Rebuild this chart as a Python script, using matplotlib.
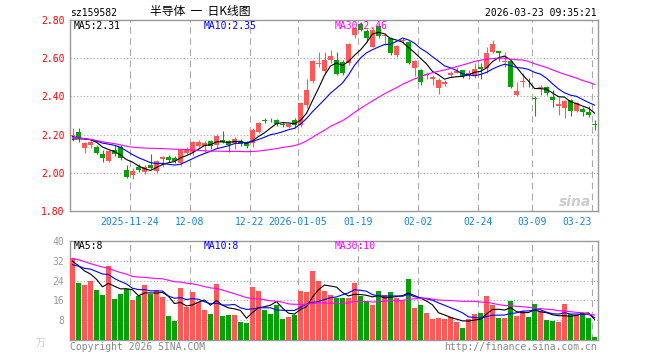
import numpy as np
import pandas as pd
import matplotlib
matplotlib.use("Agg")
import matplotlib.pyplot as plt

plt.rcParams['font.family'] = ['DejaVu Sans Mono', 'Noto Sans CJK SC']

# daily candles, 2025-11-10 .. 2026-03-23 (88 sessions)
opens = [2.195, 2.215, 2.13, 2.145, 2.135, 2.10, 2.06, 2.12, 2.135, 2.015,
         1.99, 2.03, 2.005, 2.04, 2.01, 2.07, 2.085, 2.075, 2.05, 2.105,
         2.11, 2.14, 2.14, 2.165, 2.145, 2.17, 2.165, 2.155, 2.165, 2.16,
         2.155, 2.215, 2.275, 2.277, 2.275, 2.255, 2.24, 2.275, 2.25, 2.355,
         2.48, 2.57, 2.535, 2.59, 2.59, 2.58, 2.573, 2.72, 2.78, 2.74,
         2.66, 2.77, 2.715, 2.705, 2.615, 2.69, 2.687, 2.548, 2.538, 2.51,
         2.49, 2.445, 2.465, 2.51, 2.525, 2.538, 2.512, 2.512, 2.556, 2.548,
         2.63, 2.64, 2.58, 2.583, 2.407, 2.475, 2.462, 2.392, 2.443, 2.451,
         2.395, 2.35, 2.338, 2.38, 2.326, 2.332, 2.318, 2.252]
closes = [2.20, 2.18, 2.155, 2.16, 2.105, 2.075, 2.115, 2.10, 2.075, 1.98,
          2.01, 2.015, 2.03, 2.025, 2.06, 2.085, 2.065, 2.06, 2.12, 2.12,
          2.16, 2.16, 2.155, 2.14, 2.195, 2.16, 2.145, 2.175, 2.15, 2.14,
          2.225, 2.26, 2.272, 2.274, 2.255, 2.25, 2.255, 2.25, 2.365, 2.435,
          2.585, 2.575, 2.59, 2.61, 2.517, 2.52, 2.674, 2.756, 2.75, 2.705,
          2.75, 2.715, 2.72, 2.625, 2.665, 2.695, 2.575, 2.587, 2.477, 2.515,
          2.50, 2.485, 2.475, 2.52, 2.535, 2.508, 2.525, 2.542, 2.545, 2.625,
          2.675, 2.625, 2.585, 2.45, 2.43, 2.48, 2.458, 2.388, 2.447, 2.416,
          2.381, 2.36, 2.378, 2.326, 2.367, 2.318, 2.303, 2.25]
highs = [2.235, 2.235, 2.16, 2.17, 2.145, 2.12, 2.12, 2.145, 2.145, 2.04,
         2.025, 2.045, 2.04, 2.10, 2.065, 2.09, 2.095, 2.09, 2.125, 2.135,
         2.165, 2.17, 2.165, 2.17, 2.205, 2.22, 2.17, 2.185, 2.175, 2.165,
         2.235, 2.265, 2.285, 2.285, 2.28, 2.265, 2.26, 2.285, 2.37, 2.49,
         2.59, 2.635, 2.635, 2.645, 2.635, 2.59, 2.678, 2.765, 2.79, 2.755,
         2.757, 2.78, 2.73, 2.71, 2.67, 2.705, 2.69, 2.59, 2.546, 2.53,
         2.51, 2.495, 2.485, 2.535, 2.555, 2.54, 2.54, 2.573, 2.573, 2.66,
         2.695, 2.64, 2.635, 2.59, 2.477, 2.52, 2.495, 2.40, 2.46, 2.452,
         2.433, 2.395, 2.381, 2.385, 2.372, 2.343, 2.35, 2.276]
lows = [2.165, 2.16, 2.105, 2.13, 2.10, 2.055, 2.055, 2.09, 2.065, 1.975,
        1.965, 2.005, 1.995, 2.02, 2.00, 2.03, 2.055, 2.05, 2.035, 2.10,
        2.095, 2.135, 2.11, 2.125, 2.13, 2.155, 2.11, 2.125, 2.14, 2.13,
        2.135, 2.21, 2.26, 2.265, 2.245, 2.24, 2.235, 2.235, 2.24, 2.34,
        2.47, 2.555, 2.52, 2.575, 2.51, 2.51, 2.565, 2.705, 2.74, 2.685,
        2.66, 2.705, 2.67, 2.615, 2.605, 2.675, 2.57, 2.508, 2.46, 2.49,
        2.46, 2.41, 2.455, 2.50, 2.52, 2.495, 2.49, 2.495, 2.49, 2.52,
        2.625, 2.585, 2.556, 2.443, 2.402, 2.45, 2.45, 2.295, 2.407, 2.405,
        2.346, 2.303, 2.285, 2.297, 2.32, 2.30, 2.29, 2.224]
# volume in 万
volumes = [33.3, 22.9, 22.4, 23.7, 20.4, 18.0, 30.0, 16.4, 18.5, 20.7,
           16.0, 17.7, 22.1, 18.7, 20.3, 17.3, 9.7, 7.7, 20.9, 13.3,
           19.3, 15.3, 12.0, 10.5, 22.7, 9.7, 10.0, 10.0, 7.3, 6.9,
           21.3, 19.7, 12.0, 10.5, 14.0, 8.4, 9.2, 10.3, 20.0, 19.3,
           28.0, 24.0, 19.7, 18.0, 17.1, 17.1, 17.1, 22.9, 17.6, 15.6,
           14.0, 19.6, 18.0, 19.2, 16.9, 16.0, 24.8, 12.9, 14.1, 10.9,
           8.4, 8.8, 8.4, 9.3, 7.3, 4.9, 8.4, 10.5, 10.9, 17.7,
           14.1, 8.9, 8.9, 15.7, 9.7, 11.9, 9.3, 14.4, 11.6, 8.0,
           7.7, 7.3, 14.4, 10.4, 10.0, 11.1, 8.9, 1.2]

# sessions before the window, only feed the moving averages (estimated)
prior_closes = [2.30, 2.28, 2.25, 2.27, 2.29, 2.26, 2.24, 2.27,
                2.20, 2.15, 2.10, 2.08, 2.06, 2.09, 2.10, 2.12, 2.11, 2.13, 2.16,
                2.22, 2.24, 2.21, 2.20, 2.19, 2.18, 2.17, 2.16, 2.18, 2.17]
prior_volumes = [40, 45, 48, 42, 38, 44, 46, 41, 40, 44,
                 26, 24, 28, 25, 22, 27, 26, 24, 28, 27,
                 29, 31, 27, 30, 28, 32, 33, 30, 31]

tick_idx = [10, 20, 30, 38, 48, 58, 68, 77, 87]
tick_labels = ['2025-11-24', '12-08', '12-22', '2026-01-05', '01-19',
               '02-02', '02-24', '03-09', '03-23']
price_ticks = [1.80, 2.00, 2.20, 2.40, 2.60, 2.80]
vol_ticks = [8, 16, 24, 32, 40]

RED = '#ff5858'
GREEN = '#08a008'
FRAME = '#999999'
GRID = '#aaaaaa'
W, H = 660, 360

o = np.array(opens); c = np.array(closes)
hi = np.array(highs); lo = np.array(lows)
v = np.array(volumes)
x = np.arange(len(c))
up = c >= o
cols = np.where(up, RED, GREEN)

all_c = pd.Series(prior_closes + closes)
all_v = pd.Series(prior_volumes + volumes)
n0 = len(prior_closes)
ma = {k: all_c.rolling(k).mean().values[n0:] for k in (5, 10, 30)}
vma = {k: all_v.rolling(k).mean().values[n0:] for k in (5, 10, 30)}
ma_cols = {5: '#000000', 10: '#0000ff', 30: '#ff00ff'}

fig = plt.figure(figsize=(W / 100, H / 100), dpi=100)


def box(l, t, r, b):
    return [l / W, 1 - b / H, (r - l) / W, (b - t) / H]


def ftext(px, py, s, **kw):
    fig.text(px / W, 1 - py / H, s, va='center', **kw)


ax = fig.add_axes(box(70, 20, 598, 211))
axv = fig.add_axes(box(70, 241, 598, 340))

xlim = (-2.5 / 6, len(c) - 2.5 / 6)
grid_x = np.array(tick_idx) - 2.5 / 6

# candles
ax.vlines(x, lo, hi, colors=cols, linewidth=0.8, zorder=3)
body_lo = np.minimum(o, c)
body_h = np.maximum(np.abs(c - o), 0.004)
ax.bar(x, body_h, bottom=body_lo, width=0.8, color=cols, linewidth=0, zorder=3)
for k in (5, 10, 30):
    ax.plot(x, ma[k], color=ma_cols[k], linewidth=0.8, zorder=4)

ax.set_xlim(*xlim)
ax.set_ylim(1.80, 2.80)
ax.set_yticks(price_ticks)
ax.set_yticklabels(['%.2f' % p for p in price_ticks])
ax.tick_params(axis='y', length=0, pad=4, labelcolor='#ff0000', labelsize=7)
ax.set_xticks(grid_x)
ax.set_xticklabels(tick_labels)
ax.tick_params(axis='x', length=0, pad=4, labelcolor='#1485d6', labelsize=7)
ax.get_xticklabels()[-1].set_ha('right')
for p in price_ticks[1:-1]:
    ax.axhline(p, color=GRID, linewidth=0.8, linestyle=(0, (1, 2)), zorder=1)
for gx in grid_x:
    ax.axvline(gx, color=GRID, linewidth=0.8, linestyle=(0, (6, 4)), zorder=1)

# volume
axv.bar(x, v, width=0.8, color=cols, linewidth=0, zorder=3)
for k in (5, 10, 30):
    axv.plot(x, vma[k], color=ma_cols[k], linewidth=0.8, zorder=4)
axv.set_xlim(*xlim)
axv.set_ylim(0, 40)
axv.set_yticks(vol_ticks)
axv.tick_params(axis='y', length=0, pad=4, labelcolor='#999999', labelsize=7)
axv.set_xticks([])
for t in vol_ticks[:-1]:
    axv.axhline(t, color=GRID, linewidth=0.8, linestyle=(0, (1, 2)), zorder=1)
for gx in grid_x:
    axv.axvline(gx, color=GRID, linewidth=0.8, linestyle=(0, (6, 4)), zorder=1)

for a in (ax, axv):
    for s in a.spines.values():
        s.set_color(FRAME)
        s.set_linewidth(1.0)

# header texts
ftext(70, 13, 'sz159582', fontsize=7, color='#000000')
ftext(150, 12, '半导体  一  日K线图', fontsize=8.5, color='#000000',
      family=['Noto Sans CJK SC', 'DejaVu Sans'])
ftext(597, 13, '2026-03-23 09:35:21', fontsize=7, color='#000000', ha='right')

ftext(74, 26, 'MA5:2.31', fontsize=7, color='#000000')
ftext(204, 26, 'MA10:2.35', fontsize=7, color='#0000ff')
ftext(335, 26, 'MA30:2.46', fontsize=7, color='#ff00ff', zorder=5)

ftext(74, 246, 'MA5:8', fontsize=7, color='#000000')
ftext(204, 246, 'MA10:8', fontsize=7, color='#0000ff')
ftext(335, 246, 'MA30:10', fontsize=7, color='#ff00ff')

ftext(41, 343, '万', fontsize=7, color='#cccccc', ha='center',
      family=['Noto Sans CJK SC', 'DejaVu Sans'])
ftext(70, 347, 'Copyright 2026 SINA.COM', fontsize=7, color='#888888')
ftext(597, 347, 'http://finance.sina.com.cn', fontsize=7, color='#888888', ha='right')

ftext(575, 202, 'sina', fontsize=10, color='#cccccc', ha='center',
      family='DejaVu Sans', fontstyle='italic', fontweight='bold')

fig.savefig('out.png', dpi=100)
